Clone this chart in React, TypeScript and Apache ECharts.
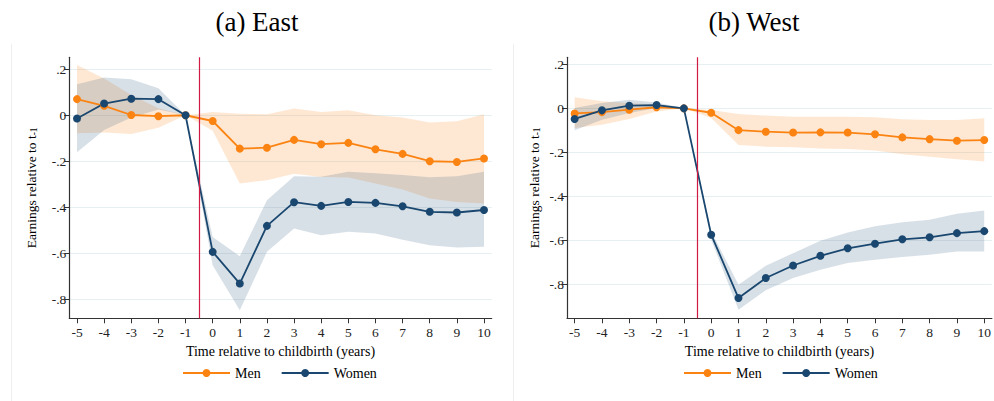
import React, { useEffect, useRef } from "react";
import * as echarts from "echarts";

const years = [-5, -4, -3, -2, -1, 0, 1, 2, 3, 4, 5, 6, 7, 8, 9, 10];
const yTicks = [0.2, 0, -0.2, -0.4, -0.6, -0.8];
const panelTitles = ["(a) East", "(b) West"];
const seriesNames = ["Men", "Women"];

// East
const menEast = [0.070, 0.041, 0.001, -0.004, 0, -0.025, -0.145, -0.141, -0.107, -0.126, -0.120, -0.148, -0.168, -0.200, -0.203, -0.188];
const menEastHi = [0.219, 0.160, 0.088, 0.030, 0, 0.014, 0.007, 0.004, 0.029, 0.014, 0.022, 0.000, -0.010, -0.032, -0.026, 0.004];
const menEastLo = [-0.078, -0.075, -0.081, -0.054, 0, -0.067, -0.297, -0.283, -0.254, -0.268, -0.271, -0.297, -0.323, -0.362, -0.377, -0.384];
const womenEast = [-0.014, 0.051, 0.072, 0.070, 0, -0.594, -0.732, -0.481, -0.378, -0.394, -0.377, -0.381, -0.396, -0.420, -0.423, -0.412];
const womenEastHi = [0.135, 0.164, 0.157, 0.117, 0, -0.529, -0.613, -0.370, -0.265, -0.267, -0.246, -0.252, -0.260, -0.270, -0.265, -0.246];
const womenEastLo = [-0.161, -0.064, -0.010, 0.025, 0, -0.652, -0.848, -0.594, -0.493, -0.522, -0.507, -0.514, -0.541, -0.565, -0.575, -0.572];

// West
const menWest = [-0.023, -0.017, -0.006, 0.005, 0, -0.020, -0.099, -0.106, -0.110, -0.109, -0.110, -0.118, -0.132, -0.140, -0.147, -0.144];
const menWestHi = [0.050, 0.032, 0.024, 0.017, 0, -0.008, -0.026, -0.033, -0.038, -0.038, -0.038, -0.040, -0.049, -0.053, -0.053, -0.045];
const menWestLo = [-0.089, -0.074, -0.048, -0.014, 0, -0.044, -0.167, -0.174, -0.177, -0.182, -0.185, -0.192, -0.209, -0.220, -0.231, -0.242];
const womenWest = [-0.048, -0.009, 0.012, 0.015, 0, -0.574, -0.862, -0.771, -0.714, -0.670, -0.636, -0.615, -0.595, -0.586, -0.567, -0.558];
const womenWestHi = [0.002, 0.024, 0.039, 0.027, 0, -0.559, -0.802, -0.715, -0.658, -0.602, -0.564, -0.536, -0.518, -0.506, -0.479, -0.464];
const womenWestLo = [-0.100, -0.052, -0.021, 0.002, 0, -0.597, -0.915, -0.827, -0.771, -0.733, -0.703, -0.688, -0.676, -0.665, -0.650, -0.650];

const eventLine = -0.5;

const FONT = "'Liberation Serif', 'DejaVu Serif', serif";
const ORANGE = "#fb8312";
const NAVY = "#1a476f";
const ORANGE_BAND = "rgba(252, 128, 14, 0.18)";
const NAVY_BAND = "rgba(26, 71, 111, 0.17)";

function fmtY(v: number) {
  if (Math.abs(v) < 1e-9) return "0";
  const s = Math.abs(v).toFixed(1).replace(/^0/, "");
  return (v < 0 ? "-" : "") + s;
}

function band(id: string, gi: number, lo: number[], hi: number[], color: string) {
  return {
    type: "custom",
    name: id,
    xAxisIndex: gi,
    yAxisIndex: gi,
    silent: true,
    z: 1,
    data: years.map((x, i) => [x, lo[i], hi[i]]),
    encode: { x: 0, y: [1, 2] },
    renderItem: (params: any, api: any) => {
      if (params.dataIndex !== 0) return { type: "group", children: [] };
      const upper = years.map((x, i) => api.coord([x, hi[i]]));
      const lower = years.map((x, i) => api.coord([x, lo[i]])).reverse();
      return {
        type: "polygon",
        shape: { points: upper.concat(lower) },
        style: { fill: color, stroke: "none" },
      };
    },
  };
}

function line(name: string, gi: number, vals: number[], color: string, withMark: boolean) {
  const s: any = {
    type: "line",
    name,
    xAxisIndex: gi,
    yAxisIndex: gi,
    data: years.map((x, i) => [x, vals[i]]),
    symbol: "circle",
    symbolSize: 8,
    lineStyle: { color, width: 1.8 },
    itemStyle: { color },
    z: 3,
  };
  if (withMark) {
    s.markLine = {
      silent: true,
      symbol: "none",
      label: { show: false },
      lineStyle: { color: "#d01c44", width: 1.2, type: "solid" },
      data: [{ xAxis: eventLine }],
    };
  }
  return s;
}

function xAxis(gi: number, min: number, max: number) {
  return {
    type: "value",
    gridIndex: gi,
    min,
    max,
    name: "Time relative to childbirth (years)",
    nameLocation: "middle",
    nameGap: 26,
    nameTextStyle: { fontFamily: FONT, fontSize: 14, color: "#000" },
    axisLine: { show: true, onZero: false, lineStyle: { color: "#333", width: 1.2 } },
    axisTick: { show: true, length: 5, customValues: years, lineStyle: { color: "#333" } },
    axisLabel: { customValues: years, margin: 7, fontFamily: FONT, fontSize: 13.5, color: "#222" },
    splitLine: { show: false },
  };
}

function yAxis(gi: number, min: number, max: number, gap: number) {
  return {
    type: "value",
    gridIndex: gi,
    min,
    max,
    name: "{a|Earnings relative to t}{b|-1}",
    nameLocation: "middle",
    nameGap: gap,
    nameTextStyle: {
      rich: {
        a: { fontFamily: FONT, fontSize: 13.5, color: "#000", lineHeight: 16 },
        b: { fontFamily: FONT, fontSize: 9.5, color: "#000", lineHeight: 9, verticalAlign: "bottom" },
      },
    },
    axisLine: { show: true, onZero: false, lineStyle: { color: "#333", width: 1.2 } },
    axisTick: { show: true, length: 5, customValues: yTicks, lineStyle: { color: "#333" } },
    axisLabel: { customValues: yTicks, margin: 3, formatter: fmtY, fontFamily: FONT, fontSize: 13.5, color: "#222" },
    splitLine: { show: true, lineStyle: { color: "#e6eff1", width: 1 } },
  };
}

function legend(left: number) {
  return {
    data: seriesNames,
    left,
    top: 366,
    padding: 0,
    itemWidth: 47,
    itemHeight: 10,
    itemGap: 20,
    textStyle: { fontFamily: FONT, fontSize: 14, color: "#000" },
  };
}

export default function App() {
  const ref = useRef<HTMLDivElement>(null);
  useEffect(() => {
    if (!ref.current) return;
    const chart = echarts.init(ref.current, undefined, { renderer: "svg" });
    chart.setOption({
      animation: false,
      backgroundColor: "#fff",
      grid: [
        { left: 69.3, top: 57.3, width: 422.4, height: 261 },
        { left: 567, top: 57.3, width: 427, height: 261 },
      ],
      xAxis: [xAxis(0, -5.284, 10.284), xAxis(1, -5.28, 10.28)],
      yAxis: [yAxis(0, -0.883, 0.252, 30), yAxis(1, -0.954, 0.232, 25)],
      legend: [legend(182), legend(683)],
      graphic: [
        { type: "line", shape: { x1: 11.5, y1: 44, x2: 11.5, y2: 401 }, style: { stroke: "#eeeeee", lineWidth: 1 }, silent: true },
        { type: "line", shape: { x1: 513.5, y1: 44, x2: 513.5, y2: 401 }, style: { stroke: "#eeeeee", lineWidth: 1 }, silent: true },
        { type: "text", x: 257, y: 22, style: { text: panelTitles[0], textAlign: "center", textVerticalAlign: "middle", fontFamily: FONT, fontSize: 27, fill: "#000" } },
        { type: "text", x: 754, y: 22, style: { text: panelTitles[1], textAlign: "center", textVerticalAlign: "middle", fontFamily: FONT, fontSize: 27, fill: "#000" } },
      ],
      series: [
        band("menEastBand", 0, menEastLo, menEastHi, ORANGE_BAND),
        band("womenEastBand", 0, womenEastLo, womenEastHi, NAVY_BAND),
        line(seriesNames[0], 0, menEast, ORANGE, false),
        line(seriesNames[1], 0, womenEast, NAVY, true),
        band("menWestBand", 1, menWestLo, menWestHi, ORANGE_BAND),
        band("womenWestBand", 1, womenWestLo, womenWestHi, NAVY_BAND),
        line(seriesNames[0], 1, menWest, ORANGE, false),
        line(seriesNames[1], 1, womenWest, NAVY, true),
      ],
    });
    return () => chart.dispose();
  }, []);
  return <div ref={ref} style={{ position: "fixed", left: 0, top: 0, width: 994, height: 401 }} />;
}
